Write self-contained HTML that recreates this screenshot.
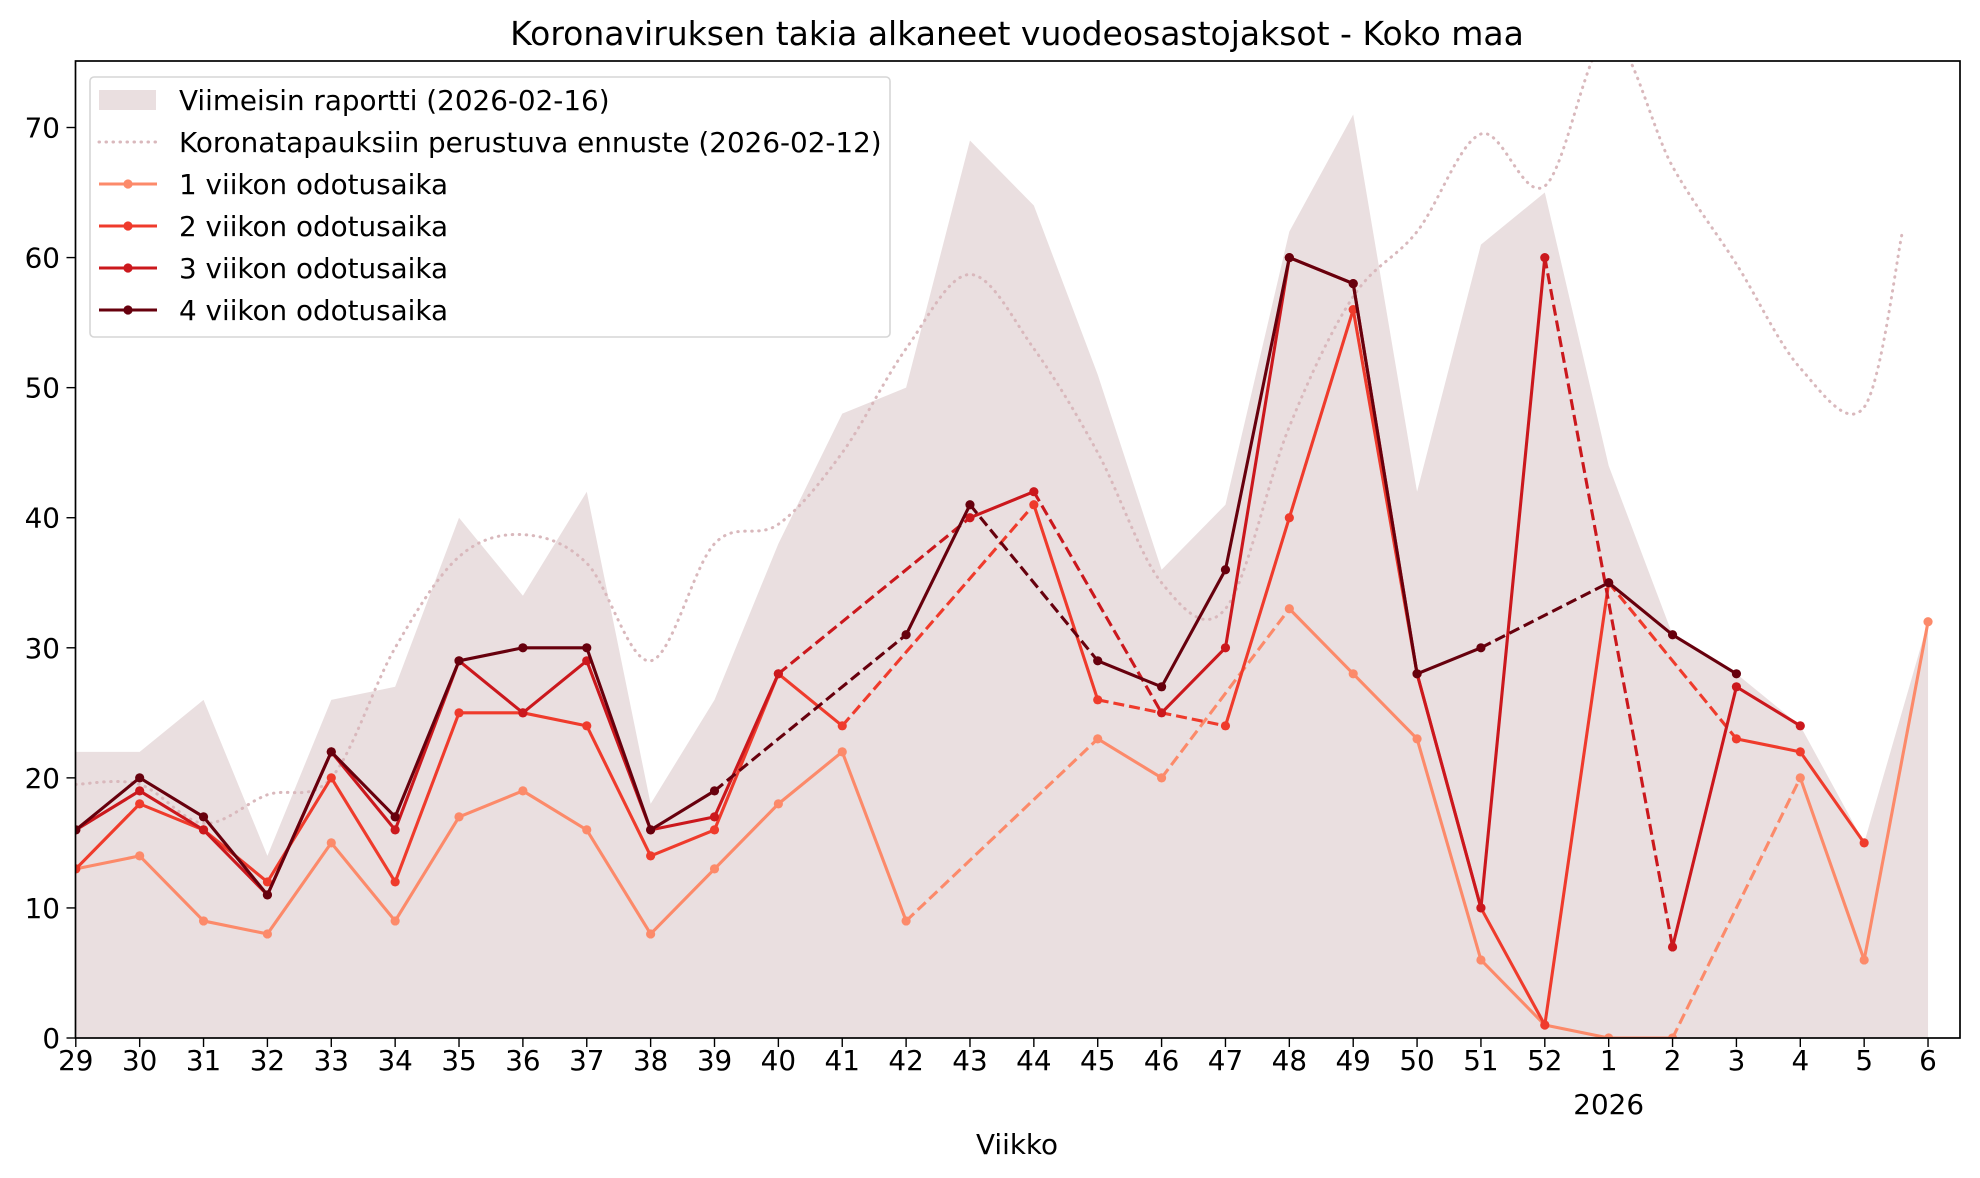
<!DOCTYPE html>
<html><head><meta charset="utf-8">
<style>
html,body{margin:0;padding:0;background:#fff;}
svg{display:block;font-family:"DejaVu Sans","Liberation Sans",sans-serif;}
</style></head>
<body>
<svg id="c" width="1980" height="1178" viewBox="0 0 1980 1178" xmlns="http://www.w3.org/2000/svg">
<defs><clipPath id="cp"><rect x="75.5" y="61" width="1884.5" height="977"/></clipPath></defs>
<rect width="1980" height="1178" fill="#fff"/>
<text x="1017" y="45" font-size="33" text-anchor="middle" fill="#000">Koronaviruksen takia alkaneet vuodeosastojaksot - Koko maa</text>
<g id="plot" clip-path="url(#cp)"></g>
<g id="axes"></g>
</svg>
<script>
const X0=75.8, DX=63.87, Y0=1038, DY=13.007;
const X=i=>X0+i*DX, Y=v=>Y0-v*DY;
const ns="http://www.w3.org/2000/svg";
function el(p,t,a,txt){const e=document.createElementNS(ns,t);for(const k in a)e.setAttribute(k,a[k]);if(txt!==undefined)e.textContent=txt;p.appendChild(e);return e;}
const plot=document.getElementById('plot'), axes=document.getElementById('axes');
const area=[22,22,26,14,26,27,40,34,42,18,26,38,48,50,69,64,51,36,41,62,71,42,61,65,44,31,28,24,15,32];
let d=`M${X(0)},${Y(0)} `;area.forEach((v,i)=>d+=`L${X(i)},${Y(v)} `);d+=`L${X(29)},${Y(0)} Z`;
el(plot,'path',{d,fill:'#eadfe0'});
const fc=[[0,19.5],[1,19.5],[2,16.5],[3,18.7],[4,20],[5,30],[6,37],[7,38.7],[8,36.5],[9,29],[10,38],[11,39.5],[12,45],[13,53],[14,58.7],[15,53],[16,45],[17,35],[18,33],[19,47],[20,57],[21,62],[22,69.5],[23,65.5],[24,77],[25,67],[26,59.5],[27,51.5],[28,48.5],[28.6,62]];
let fd=`M${X(fc[0][0])},${Y(fc[0][1])} `;
for(let i=0;i<fc.length-1;i++){const p0=fc[Math.max(0,i-1)],p1=fc[i],p2=fc[i+1],p3=fc[Math.min(fc.length-1,i+2)];
const c1=[X(p1[0])+(X(p2[0])-X(p0[0]))/6,Y(p1[1])+(Y(p2[1])-Y(p0[1]))/6];
const c2=[X(p2[0])-(X(p3[0])-X(p1[0]))/6,Y(p2[1])-(Y(p3[1])-Y(p1[1]))/6];
fd+=`C${c1[0]},${c1[1]} ${c2[0]},${c2[1]} ${X(p2[0])},${Y(p2[1])} `;}
el(plot,'path',{d:fd,fill:'none',stroke:'#d9b8bc','stroke-width':3,'stroke-dasharray':'0.5,6.5','stroke-linecap':'round'});
const N=null;
const series=[
 ['#fc8a6a',[13,14,9,8,15,9,17,19,16,8,13,18,22,9,N,N,23,20,N,33,28,23,6,1,0,0,N,20,6,32]],
 ['#ef3b2c',[13,18,16,12,20,12,25,25,24,14,16,28,24,N,N,41,26,N,24,40,56,28,10,1,35,N,23,22,15,N]],
 ['#cb181d',[16,19,16,11,22,16,29,25,29,16,17,28,N,N,40,42,N,25,30,60,58,28,10,60,N,7,27,24,N,N]],
 ['#67000d',[16,20,17,11,22,17,29,30,30,16,19,N,N,31,41,N,29,27,36,60,58,28,30,N,35,31,28,N,N,N]]
];
series.forEach(([col,v])=>{
 const idx=v.map((x,i)=>x===N?-1:i).filter(i=>i>=0);
 for(let k=0;k<idx.length-1;k++){const a=idx[k],b=idx[k+1];
  const at={x1:X(a),y1:Y(v[a]),x2:X(b),y2:Y(v[b]),stroke:col,'stroke-width':3.1};
  if(b-a>1)at['stroke-dasharray']='11,5';
  el(plot,'line',at);}
 idx.forEach(i=>el(plot,'circle',{cx:X(i),cy:Y(v[i]),r:4.6,fill:col}));
});
el(axes,'rect',{x:75.5,y:61,width:1884.5,height:977,fill:'none',stroke:'#000','stroke-width':1.7});
const wk=[29,30,31,32,33,34,35,36,37,38,39,40,41,42,43,44,45,46,47,48,49,50,51,52,1,2,3,4,5,6];
wk.forEach((w,i)=>{el(axes,'line',{x1:X(i),y1:1038,x2:X(i),y2:1047,stroke:'#000','stroke-width':1.4});
 el(axes,'text',{x:X(i),y:1070,'font-size':27.8,'text-anchor':'middle'},w);});
el(axes,'text',{x:X(24),y:1114,'font-size':27.8,'text-anchor':'middle'},'2026');
el(axes,'text',{x:1017,y:1154,'font-size':27.8,'text-anchor':'middle'},'Viikko');
for(let v=0;v<=70;v+=10){el(axes,'line',{x1:66.5,y1:Y(v),x2:75.5,y2:Y(v),stroke:'#000','stroke-width':1.4});
 el(axes,'text',{x:60,y:Y(v)+10,'font-size':27.8,'text-anchor':'end'},v);}
el(axes,'rect',{x:90,y:77,width:800,height:260,rx:4,fill:'#fff','fill-opacity':0.8,stroke:'#d6d6d6','stroke-width':1.6});
const ly=[100,142,184,226,268,310];
el(axes,'rect',{x:99,y:ly[0]-10,width:57,height:20,fill:'#eadfe0'});
el(axes,'line',{x1:99,y1:ly[1],x2:157,y2:ly[1],stroke:'#d9b8bc','stroke-width':3,'stroke-dasharray':'0.5,6.5','stroke-linecap':'round'});
series.forEach(([col],k)=>{const y=ly[k+2];el(axes,'line',{x1:99,y1:y,x2:157,y2:y,stroke:col,'stroke-width':3.1});el(axes,'circle',{cx:128,cy:y,r:4.6,fill:col});});
const labels=['Viimeisin raportti (2026-02-16)','Koronatapauksiin perustuva ennuste (2026-02-12)','1 viikon odotusaika','2 viikon odotusaika','3 viikon odotusaika','4 viikon odotusaika'];
labels.forEach((t,k)=>el(axes,'text',{x:179,y:ly[k]+10,'font-size':27.8},t));
</script>
</body></html>
